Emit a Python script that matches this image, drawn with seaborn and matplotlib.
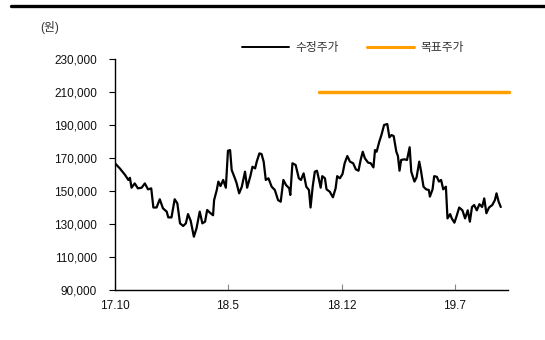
import matplotlib
matplotlib.use("Agg")
import matplotlib.pyplot as plt
import matplotlib.dates as mdates
from matplotlib.ticker import FuncFormatter
import seaborn as sns
import pandas as pd

# Adjusted share price (원)
price_dates = [
    "2017-10-01", "2017-10-10", "2017-10-20", "2017-10-26", "2017-10-29", "2017-11-01",
    "2017-11-07", "2017-11-13", "2017-11-20", "2017-11-26", "2017-12-02", "2017-12-08",
    "2017-12-12", "2017-12-18", "2017-12-24", "2017-12-30", "2018-01-06", "2018-01-09",
    "2018-01-15", "2018-01-21", "2018-01-26", "2018-01-31", "2018-02-06", "2018-02-11",
    "2018-02-15", "2018-02-20", "2018-02-26", "2018-03-03", "2018-03-09", "2018-03-14",
    "2018-03-19", "2018-03-23", "2018-03-28", "2018-04-03", "2018-04-05", "2018-04-10",
    "2018-04-13", "2018-04-17", "2018-04-22", "2018-04-27", "2018-05-01", "2018-05-05",
    "2018-05-08", "2018-05-14", "2018-05-17", "2018-05-22", "2018-05-27", "2018-06-02",
    "2018-06-06", "2018-06-12", "2018-06-16", "2018-06-21", "2018-06-24", "2018-06-29",
    "2018-07-03", "2018-07-07", "2018-07-11", "2018-07-16", "2018-07-22", "2018-07-28",
    "2018-08-03", "2018-08-08", "2018-08-13", "2018-08-18", "2018-08-24", "2018-08-26",
    "2018-08-30", "2018-09-05", "2018-09-11", "2018-09-15", "2018-09-20", "2018-09-25",
    "2018-09-30", "2018-10-03", "2018-10-07", "2018-10-11", "2018-10-15", "2018-10-19",
    "2018-10-22", "2018-10-25", "2018-10-30", "2018-11-02", "2018-11-08", "2018-11-14",
    "2018-11-19", "2018-11-22", "2018-11-27", "2018-12-02", "2018-12-06", "2018-12-11",
    "2018-12-16", "2018-12-22", "2018-12-27", "2019-01-01", "2019-01-05", "2019-01-09",
    "2019-01-13", "2019-01-19", "2019-01-24", "2019-01-29", "2019-02-01", "2019-02-04",
    "2019-02-09", "2019-02-13", "2019-02-18", "2019-02-24", "2019-02-28", "2019-03-04",
    "2019-03-08", "2019-03-13", "2019-03-16", "2019-03-19", "2019-03-22", "2019-03-28",
    "2019-04-02", "2019-04-07", "2019-04-10", "2019-04-16", "2019-04-20", "2019-04-25",
    "2019-04-28", "2019-05-03", "2019-05-08", "2019-05-13", "2019-05-15", "2019-05-20",
    "2019-05-23", "2019-05-28", "2019-06-01", "2019-06-05", "2019-06-09", "2019-06-14",
    "2019-06-17", "2019-06-22", "2019-06-25", "2019-06-30", "2019-07-04", "2019-07-09",
    "2019-07-15", "2019-07-20", "2019-07-25", "2019-07-29", "2019-08-02", "2019-08-06",
    "2019-08-11", "2019-08-16", "2019-08-21", "2019-08-25", "2019-08-29", "2019-09-03",
    "2019-09-09", "2019-09-14", "2019-09-17", "2019-09-21", "2019-09-25",
]
price_values = [
    166800, 163700, 159700, 156700, 158000, 152000,
    154600, 151600, 152000, 154600, 151000, 151600,
    140000, 140000, 145000, 139500, 137500, 134000,
    134000, 145000, 142500, 130400, 128800, 130400,
    136000, 132000, 122300, 127400, 137500, 130400,
    131400, 138500, 136900, 135300, 144500, 150600,
    155700, 153000, 156700, 152000, 174400, 174800,
    162700, 157700, 155000, 148600, 152600, 161700,
    152000, 159000, 164700, 163700, 167800, 172800,
    172400, 167800, 156700, 157700, 152600, 150600,
    144500, 143500, 156700, 153600, 151600, 147600,
    166800, 165800, 157700, 156700, 160700, 152600,
    150600, 140000, 152600, 161700, 162300, 156700,
    152000, 159000, 157700, 151000, 149600, 146200,
    151600, 159000, 157700, 160300, 166800, 171200,
    167800, 166800, 163100, 162300, 168800, 173800,
    169800, 167200, 166800, 164300, 174800, 173800,
    179900, 183900, 190000, 190600, 182500, 183900,
    183300, 173800, 171200, 162300, 168800, 169200,
    168800, 176500, 161700, 155700, 158300, 167800,
    162700, 152600, 151000, 150600, 146600, 151000,
    159000, 158600, 155700, 156700, 151000, 152600,
    133400, 136000, 133400, 130800, 134700, 140000,
    138300, 133400, 138300, 131400, 140300, 141500,
    138300, 142000, 140300, 145500, 136500, 140000,
    141500, 144500, 148600, 143500, 140300,
]

# Target price (원)
target_dates = ["2018-10-19", "2019-10-11"]
target_values = [210000, 210000]

legend_labels = ["수정주가", "목표주가"]
xtick_dates = ["2017-10-01", "2018-05-01", "2018-12-01", "2019-07-01"]
yticks = [90000, 110000, 130000, 150000, 170000, 190000, 210000, 230000]
x_range = ["2017-10-01", "2019-10-08"]

sns.set_theme(style="white")
plt.rcParams["font.family"] = ["Liberation Sans", "Noto Sans CJK KR", "DejaVu Sans"]

price_df = pd.DataFrame({"date": pd.to_datetime(price_dates), "price": price_values})
target_df = pd.DataFrame({"date": pd.to_datetime(target_dates), "price": target_values})

fig = plt.figure(figsize=(5.45, 3.40), dpi=100)
ax = fig.add_axes([115 / 545, 1 - 290 / 340, (507.7 - 115) / 545, (290 - 59) / 340])

sns.lineplot(data=price_df, x="date", y="price", ax=ax, color="black",
             linewidth=1.6, label=legend_labels[0])
sns.lineplot(data=target_df, x="date", y="price", ax=ax, color="#FF9F00",
             linewidth=2.5, label=legend_labels[1], clip_on=False)

ax.set_xlim(pd.to_datetime(x_range[0]), pd.to_datetime(x_range[1]))
ax.set_ylim(yticks[0], yticks[-1])
ax.set_yticks(yticks)
ax.yaxis.set_major_formatter(FuncFormatter(lambda v, p: f"{int(v):,}"))
ax.set_xticks(pd.to_datetime(xtick_dates))
ax.xaxis.set_major_formatter(FuncFormatter(
    lambda v, p: f"{mdates.num2date(v).year % 100}.{mdates.num2date(v).month}"))
ax.set_xlabel("")
ax.set_ylabel("")

for side in ("top", "right"):
    ax.spines[side].set_visible(False)
for side in ("left", "bottom"):
    ax.spines[side].set_color("black")
    ax.spines[side].set_linewidth(1.0)

ax.tick_params(axis="y", direction="out", length=4, width=0.8, color="black",
               labelsize=8.5, labelcolor="#111111", pad=9, left=True)
ax.tick_params(axis="x", direction="in", length=4, width=0.8, color="#888888",
               labelsize=8.5, labelcolor="#111111", pad=7, bottom=True)

leg = ax.legend(loc="center", bbox_to_anchor=(353 / 545, 1 - 48 / 340),
                bbox_transform=fig.transFigure, ncol=2, frameon=False,
                fontsize=8.5, handlelength=4.0, handletextpad=0.5,
                columnspacing=2.4, labelcolor="#333333")
leg.get_lines()[0].set_linewidth(1.4)
leg.get_lines()[1].set_linewidth(2.2)

fig.text(40 / 545, 1 - 27 / 340, "(원)", fontsize=8.5, color="#333333",
         ha="left", va="center")
fig.add_artist(plt.Line2D([11 / 545, 1.0], [1 - 5.5 / 340, 1 - 5.5 / 340],
                          transform=fig.transFigure, color="black", linewidth=2.4))

fig.savefig("out.png", dpi=100)
